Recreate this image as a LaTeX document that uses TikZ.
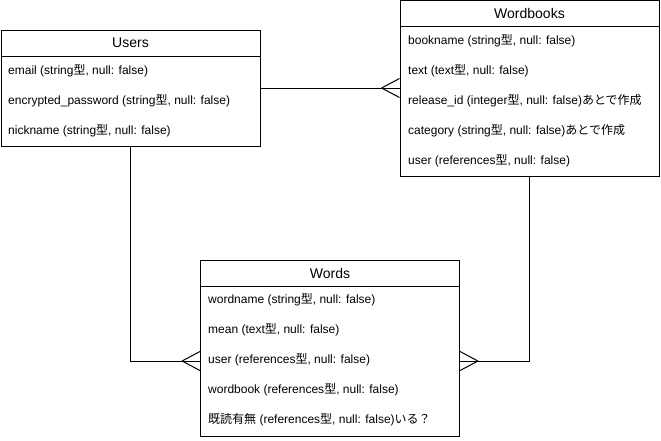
\documentclass[tikz,border=0pt]{standalone}
\usepackage{fontspec}
\setmainfont{Liberation Sans}
\newfontfamily\jpfont{Noto Sans CJK JP}
\newcommand{\ja}[1]{{\jpfont #1}}
\usetikzlibrary{calc}
\tikzset{
  tablehead/.style={draw, line width=1pt, minimum width=259pt, minimum height=26pt,
    inner sep=0pt, font=\fontsize{14}{16}\selectfont},
  tablebody/.style={draw, line width=1pt, minimum width=259pt, inner sep=0pt},
  field/.style={anchor=west, inner sep=0pt, font=\fontsize{12}{14}\selectfont},
  relation/.style={line width=1pt},
  crow/.pic={\draw[relation] (-18,0) -- (0,9.5) (-18,0) -- (0,-9.5);}
}

\begin{document}
\begin{tikzpicture}[x=1pt, y=-1pt]
  \useasboundingbox (0,0) rectangle (661,440);

  % Users
  \node[tablehead] (users) at (130.5,43) {Users};
  \node[tablebody, minimum height=90pt] (users-body) at (130.5,101) {};
  \node[field] (users-email) at (8,71) {email (string\ja{型}, null: false)};
  \node[field] (users-password) at (8,101) {encrypted\_password (string\ja{型}, null: false)};
  \node[field] (users-nickname) at (8,131) {nickname (string\ja{型}, null: false)};

  % Wordbooks
  \node[tablehead] (wordbooks) at (529.5,13.5) {Wordbooks};
  \node[tablebody, minimum height=150pt] (wordbooks-body) at (529.5,101.5) {};
  \node[field] (wordbooks-name) at (408,41) {bookname (string\ja{型}, null: false)};
  \node[field] (wordbooks-text) at (408,71) {text (text\ja{型}, null: false)};
  \node[field] (wordbooks-release) at (408,101) {release\_id (integer\ja{型}, null: false)\ja{あとで作成}};
  \node[field] (wordbooks-category) at (408,131) {category (string\ja{型}, null: false)\ja{あとで作成}};
  \node[field] (wordbooks-user) at (408,161) {user (references\ja{型}, null: false)};

  % Words
  \node[tablehead] (words) at (330,273) {Words};
  \node[tablebody, minimum height=150pt] (words-body) at (330,361) {};
  \node[field] (words-name) at (208,300) {wordname (string\ja{型}, null: false)};
  \node[field] (words-mean) at (208,330) {mean (text\ja{型}, null: false)};
  \node[field] (words-user) at (208,360) {user (references\ja{型}, null: false)};
  \node[field] (words-book) at (208,390) {wordbook (references\ja{型}, null: false)};
  \node[field] (words-read) at (208,420) {\ja{既読有無} (references\ja{型}, null: false)\ja{いる？}};

  % relations
  \coordinate (users-out) at ([yshift=13pt]users-body.east);
  \coordinate (wordbooks-in) at (wordbooks-body.west |- users-out);
  \draw[relation] (users-out) -- (wordbooks-in);
  \pic at (wordbooks-in) {crow};

  \draw[relation] (users-body.south) |- (words-body.west);
  \pic at (words-body.west) {crow};

  \draw[relation] (wordbooks-body.south) |- (words-body.east);
  \pic[rotate=180] at (words-body.east) {crow};
\end{tikzpicture}
\end{document}
